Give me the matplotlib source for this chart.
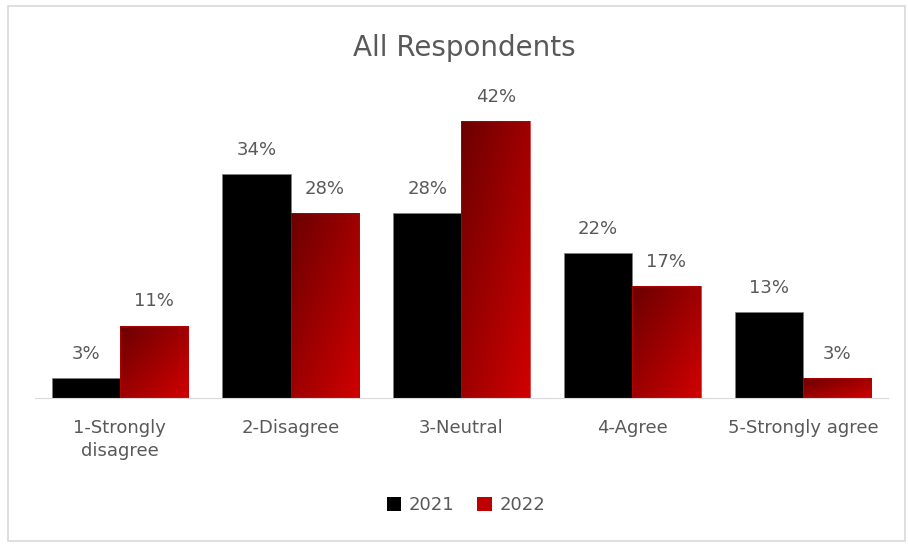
import numpy as np
import matplotlib
matplotlib.use("Agg")
import matplotlib.pyplot as plt
from matplotlib.patches import Rectangle, Patch

# data
categories = ["1-Strongly\ndisagree", "2-Disagree", "3-Neutral", "4-Agree", "5-Strongly agree"]
vals_2021 = [3, 34, 28, 22, 13]
vals_2022 = [11, 28, 42, 17, 3]
series = ["2021", "2022"]

grey = "#595959"
plt.rcParams["font.family"] = ["DejaVu Sans"]

fig = plt.figure(figsize=(9.08, 5.44), dpi=100)
ax = fig.add_axes([0.038, 0.268, 0.9405, 0.546])

x = np.arange(len(categories))
w = 0.4

# black bars
b1 = ax.bar(x - w / 2, vals_2021, w, color="black", edgecolor="#7f7f7f", linewidth=0.5, zorder=2)

# red gradient bars (dark top-left -> bright bottom-right)
b2 = ax.bar(x + w / 2, vals_2022, w, color="none", edgecolor="#c00000", linewidth=0.5, zorder=3)
gx, gy = np.meshgrid(np.linspace(0, 1, 60), np.linspace(0, 1, 200))
t = (gx + gy) / 2  # row 0 drawn at top with origin="upper"
c0 = np.array([0.42, 0.0, 0.0])
c1 = np.array([0.82, 0.0, 0.0])
grad = c0[None, None, :] * (1 - t[..., None]) + c1[None, None, :] * t[..., None]
for rect in b2:
    x0, y0 = rect.get_x(), rect.get_y()
    ww, hh = rect.get_width(), rect.get_height()
    im = ax.imshow(grad, extent=[x0, x0 + ww, y0, y0 + hh], origin="upper",
                   aspect="auto", zorder=2, interpolation="bilinear")
    im.set_clip_path(rect)

# data labels
for rects, vals in ((b1, vals_2021), (b2, vals_2022)):
    for r, v in zip(rects, vals):
        ax.annotate(f"{v}%", (r.get_x() + r.get_width() / 2, v), xytext=(0, 11),
                    textcoords="offset points", ha="center", va="bottom",
                    fontsize=13, color=grey)

ax.set_xlim(-0.5, len(categories) - 0.5)
ax.set_ylim(0, 45)
ax.set_yticks([])
ax.set_xticks(x)
ax.set_xticklabels(categories, fontsize=13, color=grey, linespacing=1.35)
ax.tick_params(axis="x", length=0, pad=15)
for s in ["top", "right", "left"]:
    ax.spines[s].set_visible(False)
ax.spines["bottom"].set_color("#d9d9d9")

fig.text(0.511, 0.912, "All Respondents", ha="center", va="center", fontsize=20, color=grey)

handles = [Patch(facecolor="black", edgecolor="none"), Patch(facecolor="#c00000", edgecolor="none")]
fig.legend(handles, series, loc="center", bbox_to_anchor=(0.513, 0.071), ncol=2, frameon=False,
           fontsize=13, labelcolor=grey, handlelength=0.8, handleheight=0.8, handletextpad=0.4,
           columnspacing=1.3)

# outer chart border
fig.add_artist(Rectangle((0.009, 0.006), 0.988, 0.983, transform=fig.transFigure,
                         fill=False, edgecolor="#d9d9d9", linewidth=1.2))

fig.savefig("out.png", dpi=100)
